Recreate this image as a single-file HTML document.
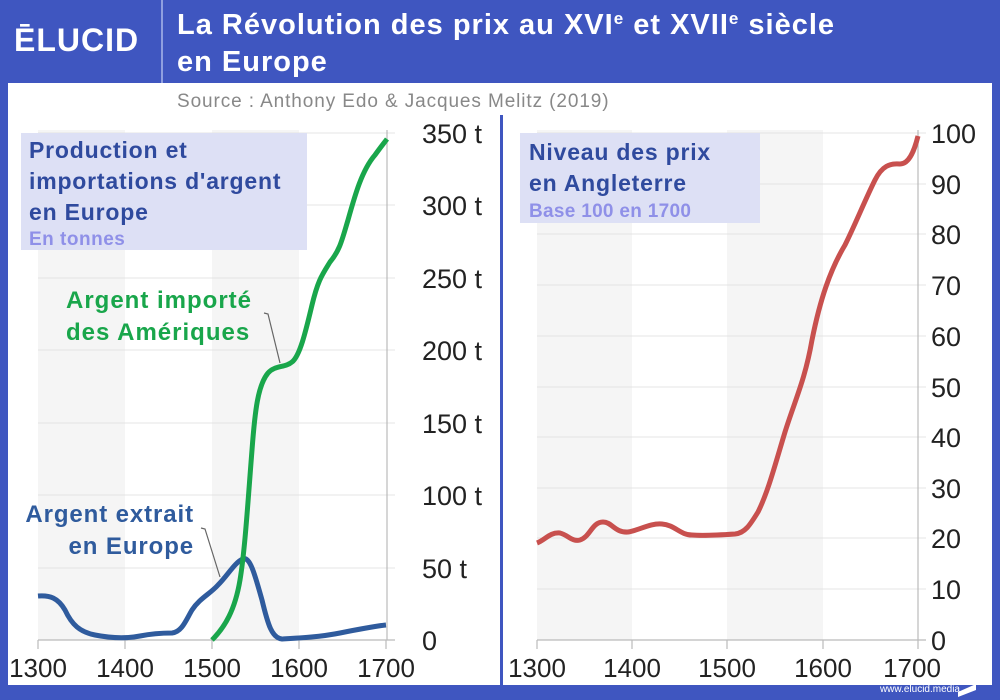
<!DOCTYPE html><html><head><meta charset="utf-8"><style>
body{margin:0;width:1000px;height:700px;background:#3f56c0;font-family:"Liberation Sans",sans-serif;position:relative;overflow:hidden}
.t{position:absolute;white-space:nowrap}
</style></head><body>
<div style="position:absolute;left:8px;top:83px;width:984px;height:602px;background:#fff"></div>
<div style="position:absolute;left:161px;top:0;width:2px;height:83px;background:#8f9fe0"></div>
<div class="t" style="left:14px;top:22px;color:#fff;font-weight:bold;font-size:32px;letter-spacing:1px">ĒLUCID</div>
<div class="t" style="left:177px;top:7px;color:#fff;font-weight:bold;font-size:29px;letter-spacing:1px;line-height:37px">La Révolution des prix au XVI<span style="font-size:17px;vertical-align:10px;line-height:0">e</span> et XVII<span style="font-size:17px;vertical-align:10px;line-height:0">e</span> siècle<br>en Europe</div>
<div class="t" style="left:177px;top:91px;color:#888;font-size:19px;letter-spacing:0.9px">Source : Anthony Edo &amp; Jacques Melitz (2019)</div>
<div style="position:absolute;left:500px;top:115px;width:3px;height:570px;background:#3f56c0"></div>
<div class="t" style="right:40px;top:684px;color:#fff;font-size:10px">www.elucid.media</div>
<svg width="1000" height="700" style="position:absolute;left:0;top:0" font-family="Liberation Sans" >
<polygon points="958,692 976,684 976,690 958,697" fill="#fff"/>
<g fill="#f5f5f5"><rect x="38" y="130" width="87" height="510"/><rect x="212" y="130" width="87" height="510"/>
<rect x="537" y="130" width="95" height="510"/><rect x="727" y="130" width="96" height="510"/></g>
<g stroke="#e4e4e4" stroke-width="1">
<line x1="38" x2="395" y1="568" y2="568"/><line x1="38" x2="395" y1="495" y2="495"/><line x1="38" x2="395" y1="423" y2="423"/><line x1="38" x2="395" y1="350" y2="350"/><line x1="38" x2="395" y1="278" y2="278"/><line x1="38" x2="395" y1="205" y2="205"/><line x1="38" x2="395" y1="133" y2="133"/>
<line x1="537" x2="926" y1="589" y2="589"/><line x1="537" x2="926" y1="538" y2="538"/><line x1="537" x2="926" y1="488" y2="488"/><line x1="537" x2="926" y1="437" y2="437"/><line x1="537" x2="926" y1="387" y2="387"/><line x1="537" x2="926" y1="336" y2="336"/><line x1="537" x2="926" y1="285" y2="285"/><line x1="537" x2="926" y1="234" y2="234"/><line x1="537" x2="926" y1="184" y2="184"/><line x1="537" x2="926" y1="133" y2="133"/>
</g>
<g stroke="#bbb" stroke-width="1.2" fill="none">
<line x1="38" x2="395" y1="640" y2="640"/><line x1="387" x2="387" y1="130" y2="640"/>
<line x1="38" x2="38" y1="640" y2="649"/><line x1="125" x2="125" y1="640" y2="649"/><line x1="212" x2="212" y1="640" y2="649"/><line x1="299" x2="299" y1="640" y2="649"/><line x1="386" x2="386" y1="640" y2="649"/>
<line x1="537" x2="926" y1="640" y2="640"/><line x1="918" x2="918" y1="130" y2="640"/>
<line x1="537" x2="537" y1="640" y2="649"/><line x1="632" x2="632" y1="640" y2="649"/><line x1="727" x2="727" y1="640" y2="649"/><line x1="823" x2="823" y1="640" y2="649"/><line x1="918" x2="918" y1="640" y2="649"/>
<polyline points="220,577 205,529 201,528" stroke="#666"/>
<polyline points="280,363 268,314 264,313" stroke="#666"/>
</g>
<g font-size="26" fill="#222">
<text x="38" y="677" text-anchor="middle">1300</text><text x="125" y="677" text-anchor="middle">1400</text><text x="212" y="677" text-anchor="middle">1500</text><text x="299" y="677" text-anchor="middle">1600</text><text x="386" y="677" text-anchor="middle">1700</text>
<text x="537" y="677" text-anchor="middle">1300</text><text x="632" y="677" text-anchor="middle">1400</text><text x="727" y="677" text-anchor="middle">1500</text><text x="823" y="677" text-anchor="middle">1600</text><text x="912" y="677" text-anchor="middle">1700</text>
<g font-size="27"><text x="422" y="650">0</text><text x="422" y="578">50 t</text><text x="422" y="505">100 t</text><text x="422" y="433">150 t</text><text x="422" y="360">200 t</text><text x="422" y="288">250 t</text><text x="422" y="215">300 t</text><text x="422" y="143">350 t</text>
<text x="931" y="650">0</text><text x="931" y="599">10</text><text x="931" y="548">20</text><text x="931" y="498">30</text><text x="931" y="447">40</text><text x="931" y="397">50</text><text x="931" y="346">60</text><text x="931" y="295">70</text><text x="931" y="244">80</text><text x="931" y="194">90</text><text x="931" y="143">100</text></g>
</g>
<path d="M38,596 C50,595 58,598 65,610 C72,625 80,632 95,635 C110,638 125,639 140,636 C150,634 158,633 172,633 C182,632 186,620 192,610 C200,598 210,594 218,585 C228,575 235,562 243,559 C250,556 255,575 262,600 C268,625 272,638 282,639 C300,638 320,637 340,633 C360,629 375,626 386,625" fill="none" stroke="#2f5b9d" stroke-width="5" stroke-linejoin="round"/>
<path d="M212,640 C225,627 235,610 240,580 C245,550 248,500 252,450 C255,410 258,385 268,373 C275,365 285,368 292,362 C300,356 306,330 312,305 C318,280 322,275 330,262 C340,250 342,240 348,220 C355,195 362,170 375,155 C380,148 384,143 387,139" fill="none" stroke="#19a64b" stroke-width="5" stroke-linejoin="round"/>
<path d="M537,543 C545,540 550,532 560,533 C568,535 572,542 580,540 C590,537 592,522 603,522 C612,522 615,533 628,532 C640,530 650,523 662,524 C675,525 680,535 692,535 C705,536 720,535 735,534 C745,533 750,525 758,512 C768,492 775,465 785,432 C795,400 805,380 812,340 C820,300 830,270 845,245 C855,225 865,200 875,180 C882,166 890,163 900,164 C910,164 915,148 918,136" fill="none" stroke="#c8504e" stroke-width="5" stroke-linejoin="round"/>
</svg>
<div style="position:absolute;left:21px;top:133px;width:286px;height:117px;background:#dde0f5"></div>
<div class="t" style="left:29px;top:135px;color:#2f4a9e;font-weight:bold;font-size:23px;letter-spacing:0.8px;line-height:31px">Production et<br>importations d'argent<br>en Europe</div>
<div class="t" style="left:29px;top:229px;color:#8f90e8;font-weight:bold;font-size:19px;letter-spacing:0.5px">En tonnes</div>
<div style="position:absolute;left:520px;top:133px;width:240px;height:90px;background:#dde0f5"></div>
<div class="t" style="left:529px;top:137px;color:#2f4a9e;font-weight:bold;font-size:23px;letter-spacing:0.8px;line-height:31px">Niveau des prix<br>en Angleterre</div>
<div class="t" style="left:529px;top:201px;color:#8f90e8;font-weight:bold;font-size:19px;letter-spacing:0.3px">Base 100 en 1700</div>
<div class="t" style="left:66px;top:285px;color:#19a64b;font-weight:bold;font-size:24px;letter-spacing:1px;line-height:32px">Argent importé<br>des Amériques</div>
<div class="t" style="left:14px;top:499px;width:180px;color:#2f5b9d;font-weight:bold;font-size:24px;letter-spacing:0.9px;line-height:32px;text-align:right">Argent extrait<br>en Europe</div>
</body></html>
